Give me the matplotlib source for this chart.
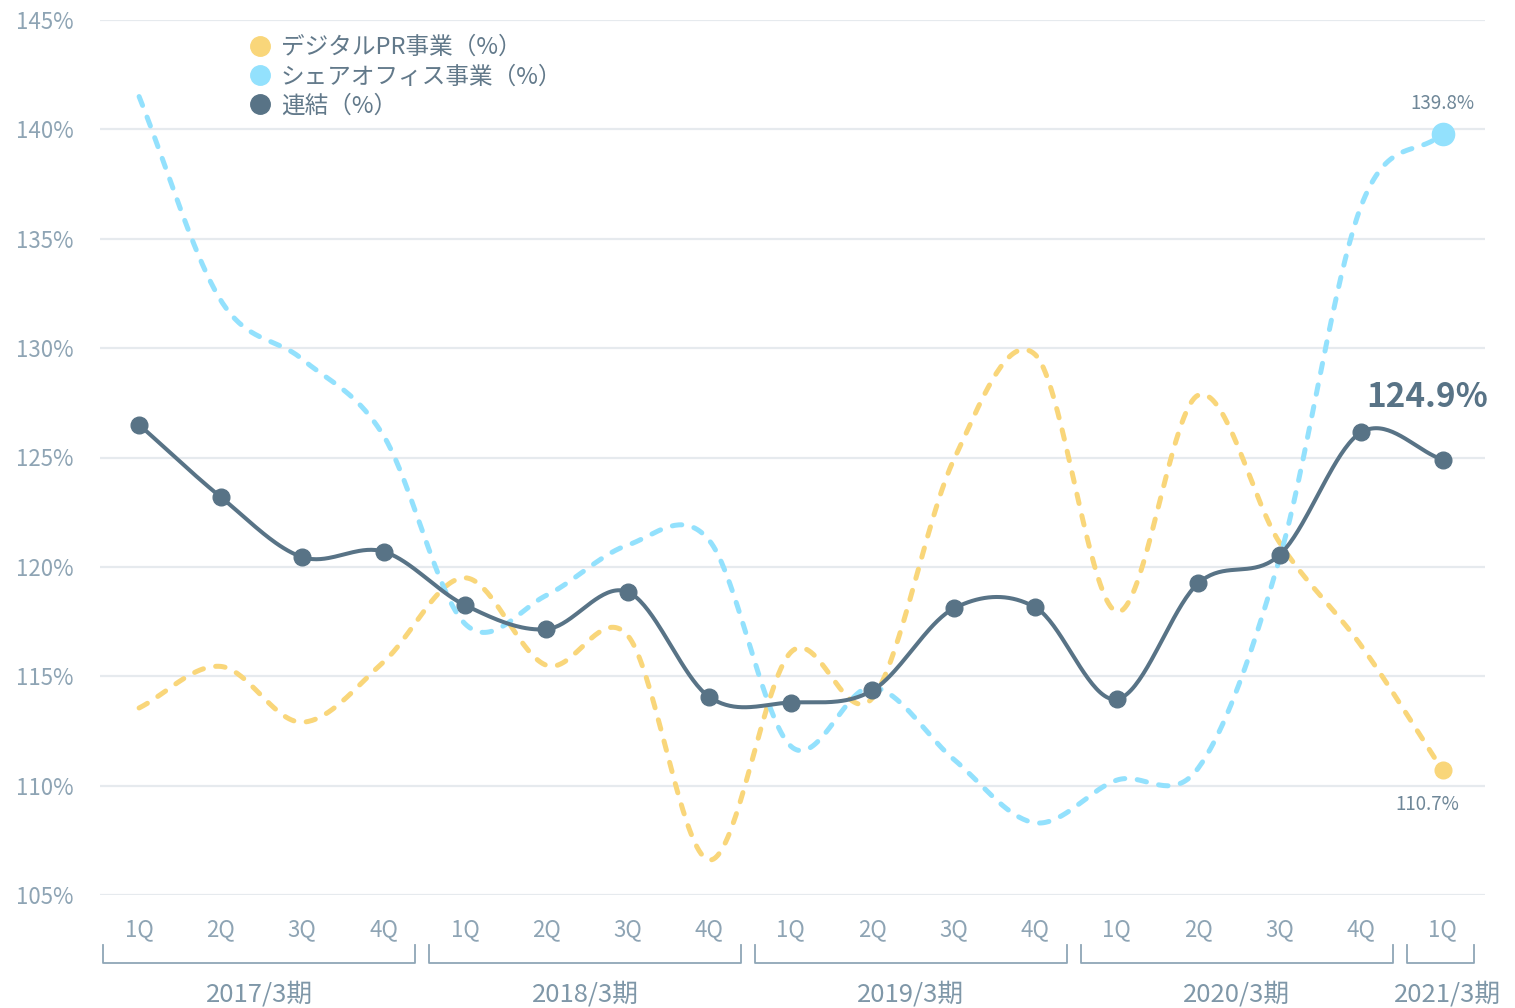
import numpy as np
import matplotlib
matplotlib.use("Agg")
import matplotlib.pyplot as plt
import matplotlib.transforms as mtransforms
from matplotlib.lines import Line2D

plt.rcParams['font.family'] = ['Noto Sans CJK JP', 'DejaVu Sans']

# ---------------- data ----------------
quarters = ["1Q", "2Q", "3Q", "4Q", "1Q", "2Q", "3Q", "4Q", "1Q", "2Q", "3Q", "4Q",
            "1Q", "2Q", "3Q", "4Q", "1Q"]
fiscal_years = ["2017/3期", "2018/3期", "2019/3期", "2020/3期", "2021/3期"]
fiscal_counts = [4, 4, 4, 4, 1]

digital_pr = [113.55, 115.45, 112.9, 115.65, 119.5, 115.5, 116.85, 106.6, 116.1,
              114.0, 124.9, 129.7, 117.95, 127.85, 121.1, 116.4, 110.7]
share_office = [141.5, 132.2, 129.5, 126.0, 117.4, 118.7, 121.0, 121.2, 111.8,
                114.5, 111.2, 108.3, 110.25, 110.8, 120.4, 136.5, 139.8]
consolidated = [126.5, 123.2, 120.45, 120.7, 118.25, 117.15, 118.85, 114.05, 113.8,
                114.35, 118.1, 118.15, 113.95, 119.25, 120.55, 126.15, 124.9]

series_labels = ["デジタルPR事業（%）", "シェアオフィス事業（%）", "連結（%）"]
yticks = [105, 110, 115, 120, 125, 130, 135, 140, 145]

C_YEL = "#f9d67a"
C_BLU = "#93e1fd"
C_DARK = "#587386"
C_TICK = "#8ea4b4"
C_GRID = "#e6eaee"


def smooth(y, n=40):
    y = np.asarray(y, float)
    x = np.arange(len(y), dtype=float)
    m = np.zeros_like(y)
    m[1:-1] = (y[2:] - y[:-2]) / 2.0
    m[0] = y[1] - y[0]
    m[-1] = y[-1] - y[-2]
    xs, ys = [], []
    for i in range(len(y) - 1):
        t = np.linspace(0, 1, n, endpoint=(i == len(y) - 2))
        h00 = 2 * t**3 - 3 * t**2 + 1
        h10 = t**3 - 2 * t**2 + t
        h01 = -2 * t**3 + 3 * t**2
        h11 = t**3 - t**2
        xs.append(x[i] + t)
        ys.append(h00 * y[i] + h10 * m[i] + h01 * y[i + 1] + h11 * m[i + 1])
    return np.concatenate(xs), np.concatenate(ys)


W, H = 1515, 1008
fig = plt.figure(figsize=(W / 100, H / 100), dpi=100)
ax = fig.add_axes([100 / W, 1 - 895 / H, 1385 / W, 875 / H])

n = len(quarters)
x = np.arange(n)
ax.set_xlim(-0.48, n - 1 + 0.52)
ax.set_ylim(105, 145)

for v in yticks:
    ax.axhline(v, color=C_GRID, lw=1.6, zorder=0)

dash = (1.9, 2.5)
xs, ys = smooth(digital_pr)
ax.plot(xs, ys, color=C_YEL, lw=3.6, dashes=dash, dash_capstyle='round', zorder=2)
xs, ys = smooth(share_office)
ax.plot(xs, ys, color=C_BLU, lw=3.6, dashes=dash, dash_capstyle='round', zorder=2)
xs, ys = smooth(consolidated)
ax.plot(xs, ys, color=C_DARK, lw=2.9, solid_capstyle='round', zorder=3)
ax.plot(x, consolidated, 'o', color=C_DARK, ms=12, zorder=4)

ax.plot(x[-1], share_office[-1], 'o', color=C_BLU, ms=16, zorder=4)
ax.plot(x[-1], digital_pr[-1], 'o', color=C_YEL, ms=12, zorder=4)

ax.annotate(f"{share_office[-1]:.1f}%", (x[-1], share_office[-1]), xytext=(0, 20),
            textcoords='offset pixels', ha='center', va='bottom', color='#6f8798', fontsize=13.5)
ax.annotate(f"{digital_pr[-1]:.1f}%", (x[-1], digital_pr[-1]), xytext=(-15, -24),
            textcoords='offset pixels', ha='center', va='top', color='#6f8798', fontsize=13.5)
ax.annotate(f"{consolidated[-1]:.1f}%", (x[-1], consolidated[-1]), xytext=(-15, 46),
            textcoords='offset pixels', ha='center', va='bottom', color=C_DARK,
            fontsize=24, fontweight='bold')

ax.set_yticks(yticks)
ax.set_yticklabels([f"{v}%" for v in yticks])
ax.set_xticks(x)
ax.set_xticklabels(quarters)
ax.tick_params(axis='y', length=0, pad=19, labelsize=16, labelcolor=C_TICK)
ax.tick_params(axis='x', length=0, pad=17, labelsize=16, labelcolor=C_TICK)
for s in ax.spines.values():
    s.set_visible(False)

# fiscal-year brackets
trans = mtransforms.blended_transform_factory(ax.transData, ax.transAxes)
y_top, y_bot, y_lab = -0.057, -0.0777, -0.114
start = 0
for lab, cnt in zip(fiscal_years, fiscal_counts):
    x0 = start - 0.44
    x1 = start + cnt - 1 + 0.39
    ax.plot([x0, x0, x1, x1], [y_top, y_bot, y_bot, y_top], color='#8fa6b6', lw=1.3,
            transform=trans, clip_on=False)
    ax.text((x0 + x1) / 2 + (0.09 if cnt == 1 else 0), y_lab, lab, transform=trans,
            ha='center', va='center', fontsize=18.5, color='#7f97a8')
    start += cnt

handles = [Line2D([], [], ls='none', marker='o', ms=14, color=c) for c in (C_YEL, C_BLU, C_DARK)]
leg = fig.legend(handles, series_labels, loc='upper left', bbox_to_anchor=(249 / W, 1 - 36 / H),
                 frameon=False, fontsize=17, handlelength=0.9, handletextpad=0.45,
                 borderpad=0, borderaxespad=0, labelspacing=0.27)
for t in leg.get_texts():
    t.set_color('#62798a')

fig.savefig("out.png", dpi=100, facecolor='white')
